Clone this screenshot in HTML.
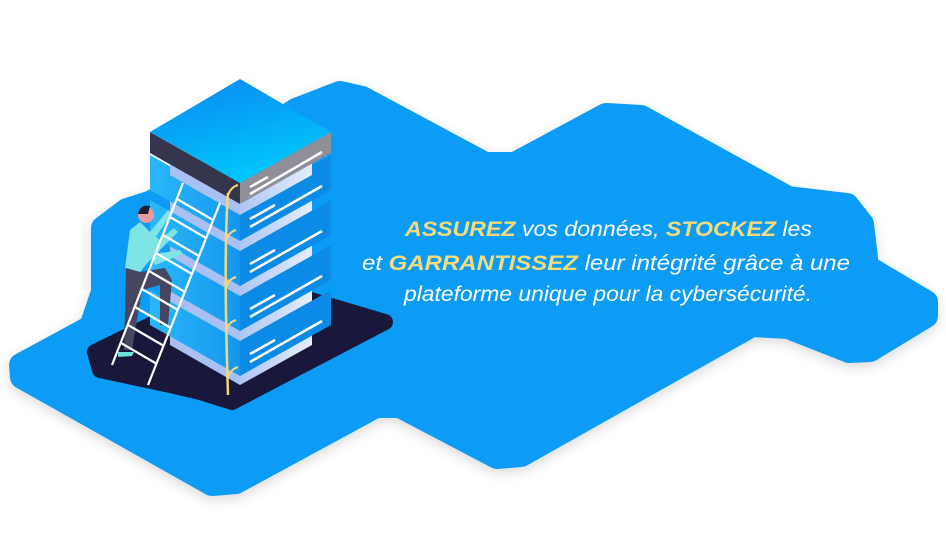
<!DOCTYPE html>
<html><head><meta charset="utf-8"><style>
html,body{margin:0;padding:0;background:#fff;width:946px;height:540px;overflow:hidden}
svg{display:block}
text{font-family:"Liberation Sans",sans-serif;font-style:italic;fill:#fff;font-size:21px}
.y{fill:#f5dc7a;font-weight:bold}
</style></head><body>
<svg width="946" height="540" viewBox="0 0 946 540">
<defs>
<filter id="sh" x="-10%" y="-10%" width="120%" height="130%"><feDropShadow dx="0" dy="4" stdDeviation="6" flood-color="#000" flood-opacity="0.15"/></filter>
<linearGradient id="top" x1="0" y1="0" x2="0.4" y2="1"><stop offset="0" stop-color="#0a86f2"/><stop offset="1" stop-color="#00c6fb"/></linearGradient>
<linearGradient id="lf" x1="0" y1="0" x2="1" y2="0"><stop offset="0" stop-color="#2ab8f8"/><stop offset="1" stop-color="#1596ee"/></linearGradient>
<linearGradient id="cr" x1="0" y1="0" x2="1" y2="0"><stop offset="0" stop-color="#aec6f4"/><stop offset="1" stop-color="#e4edfc"/></linearGradient>
</defs>
<path filter="url(#sh)" fill="#0f9cf5" stroke="#0f9cf5" stroke-width="24" stroke-linejoin="round" d="M296,110 L340,93 L362,98 L485,164 L515,164 L606,115 L641,117 L788,198 L847,205 L862,224 L867,267 L926,302 L926,316 L870,350 L849,351 L788,327 L752,325 L521,455 L497,457 L400,406 L376,406 L236,482 L212,484 L22,377 L21,365 L91,327 L103,292 L103,228 L127,210 L152,202 Z"/>
<path fill="#19183a" stroke="#19183a" stroke-width="16" stroke-linejoin="round" d="M95,352 L243,280 L385,322 L232,402 L200,392 L170,385 L100,370 Z"/>
<!-- column -->
<polygon points="170,160 240,200 240,385 170,345" fill="#a9c0f3"/>
<polygon points="240,200 312,160 312,345 240,385" fill="url(#cr)"/>
<!-- tiers -->
<g transform="translate(0,90)"><polygon points="150,200 240,251 240,286 150,235" fill="url(#lf)"/><polygon points="240,251 331,200 331,235 240,286" fill="#0b8ae6"/><line x1="250" y1="264" x2="275" y2="250" stroke="#fff" stroke-width="2.5"/><line x1="250" y1="272" x2="322" y2="231" stroke="#fff" stroke-width="2.5"/></g>
<g transform="translate(0,45)"><polygon points="150,200 240,251 240,286 150,235" fill="url(#lf)"/><polygon points="240,251 331,200 331,235 240,286" fill="#0b8ae6"/><line x1="250" y1="264" x2="275" y2="250" stroke="#fff" stroke-width="2.5"/><line x1="250" y1="272" x2="322" y2="231" stroke="#fff" stroke-width="2.5"/></g>
<g><polygon points="150,200 240,251 240,286 150,235" fill="url(#lf)"/><polygon points="240,251 331,200 331,235 240,286" fill="#0b8ae6"/><line x1="250" y1="264" x2="275" y2="250" stroke="#fff" stroke-width="2.5"/><line x1="250" y1="272" x2="322" y2="231" stroke="#fff" stroke-width="2.5"/></g>
<g transform="translate(0,-45)"><polygon points="150,200 240,251 240,286 150,235" fill="url(#lf)"/><polygon points="240,251 331,200 331,235 240,286" fill="#0b8ae6"/><line x1="250" y1="264" x2="275" y2="250" stroke="#fff" stroke-width="2.5"/><line x1="250" y1="272" x2="322" y2="231" stroke="#fff" stroke-width="2.5"/></g>
<!-- column strip over tier tops -->
<polygon points="170,160 240,200 240,215 170,175" fill="#a9c0f3"/>
<polygon points="240,200 312,160 312,175 240,215" fill="url(#cr)"/>
<!-- top box -->
<polygon points="150,132 240,183 240,204 150,153" fill="#35354d"/>
<polygon points="240,183 331,132 331,153 240,204" fill="#8e8f99"/>
<polygon points="150,132 240,79 331,132 240,183" fill="url(#top)"/>
<line x1="250" y1="187" x2="268" y2="177" stroke="#fff" stroke-width="2.5"/>
<line x1="250" y1="194" x2="322" y2="152" stroke="#fff" stroke-width="2.5"/>
<!-- vine -->
<path d="M228,193 C224,250 226,330 228,395" stroke="#f1d97b" stroke-width="2.5" fill="none"/>
<g stroke="#f1d97b" stroke-width="2" fill="none"><path d="M228,195 q3,-8 10,-10"/><path d="M226,240 q3,-8 10,-10"/><path d="M226,287 q3,-8 10,-10"/><path d="M226,330 q3,-8 10,-10"/><path d="M228,377 q3,-8 10,-10"/></g>
<!-- person -->
<path d="M140,222 L130,230 L125,268 L140,272 L150,260 L170,240 L178,232 L174,228 L160,240 L150,232 Z" fill="#7fe4e6"/>
<path d="M150,232 L168,210 L172,213 L155,238 Z" fill="#7fe4e6"/>
<path d="M150,255 L180,250 L183,254 L155,265 Z" fill="#7fe4e6"/>
<circle cx="146" cy="215" r="8" fill="#e69c9f"/>
<path d="M138,214 q2,-10 12,-8 l-2,8 z" fill="#1e1e33"/>
<path d="M126,268 L140,272 L165,268 L172,280 L168,325 L160,325 L160,285 L142,290 L132,350 L124,350 Z" fill="#464660"/>
<path d="M118,352 L134,352 L132,356 L118,357 Z" fill="#6ee0d8"/>
<!-- ladder -->
<g stroke="#fff" stroke-width="2.2">
<line x1="112" y1="365" x2="183" y2="183"/><line x1="148" y1="385" x2="220" y2="203"/>
<line x1="177" y1="199" x2="213" y2="220"/><line x1="170" y1="217" x2="206" y2="238"/><line x1="163" y1="235" x2="199" y2="256"/><line x1="156" y1="253" x2="192" y2="274"/><line x1="149" y1="271" x2="185" y2="292"/><line x1="142" y1="289" x2="178" y2="310"/><line x1="135" y1="307" x2="171" y2="328"/><line x1="128" y1="325" x2="164" y2="346"/><line x1="121" y1="343" x2="157" y2="364"/>
</g>
<!-- text -->
<text x="405" y="236" textLength="407" lengthAdjust="spacingAndGlyphs"><tspan class="y">ASSUREZ</tspan> vos données, <tspan class="y">STOCKEZ</tspan> les</text>
<text x="362" y="270" textLength="488" lengthAdjust="spacingAndGlyphs">et <tspan class="y">GARRANTISSEZ</tspan> leur intégrité grâce à une</text>
<text x="404" y="301" textLength="408" lengthAdjust="spacingAndGlyphs">plateforme unique pour la cybersécurité.</text>
</svg>
</body></html>
